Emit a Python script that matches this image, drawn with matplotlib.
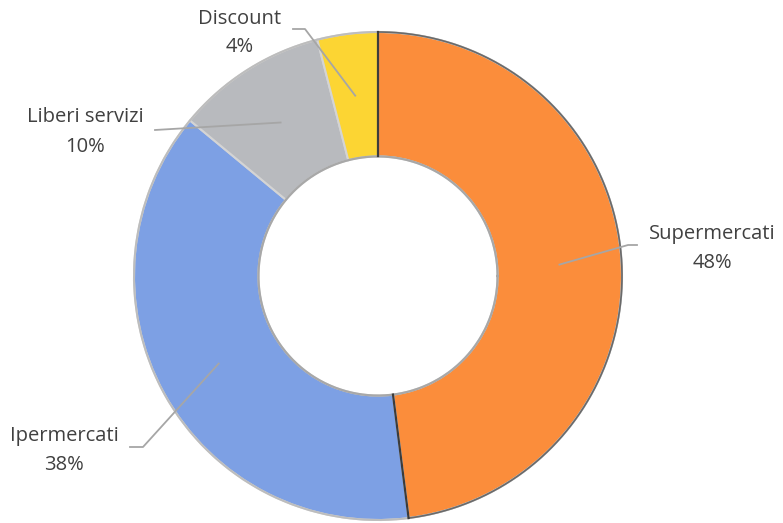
import matplotlib
matplotlib.use("Agg")
import matplotlib.pyplot as plt
import numpy as np

# quote di mercato per canale
categories = ["Supermercati", "Ipermercati", "Liberi servizi", "Discount"]
shares = [48, 38, 10, 4]
colors = ["#FB8D3B", "#7DA0E4", "#B8BABE", "#FCD533"]

W, H = 783, 523
cx, cy = 378, H - 276      # centro del donut (pixel, y dal basso)
R = 244
ring = 0.51

# posizione delle etichette e gomito della linea guida (pixel immagine)
label_pos = {
    "Supermercati": (712, 248),
    "Ipermercati": (64, 450),
    "Liberi servizi": (85, 132),
    "Discount": (240, 33),
}
elbow = {
    "Supermercati": [(637, 245), (628, 245)],
    "Ipermercati": [(130, 447), (143, 447)],
    "Liberi servizi": [(155, 130)],
    "Discount": [(293, 29), (305, 29)],
}

plt.rcParams['font.family'] = ['Open Sans', 'DejaVu Sans']

fig = plt.figure(figsize=(W / 100, H / 100), dpi=100)
ax = fig.add_axes([0, 0, 1, 1])

wedges, _ = ax.pie(shares, colors=colors, startangle=90, counterclock=False,
                   center=(cx, cy), radius=R, frame=True,
                   wedgeprops=dict(width=R * ring, edgecolor="#D4D4D4", linewidth=1.5))
ax.set_xlim(0, W)
ax.set_ylim(0, H)
ax.set_aspect('equal')
ax.axis('off')

# contorni del donut
t = np.linspace(0, 2 * np.pi, 400)
ax.plot(cx + R * np.cos(t), cy + R * np.sin(t), color="#BDBDBD", lw=1.4, zorder=3)
# lato destro del settore arancione più scuro (effetto rilievo)
a0 = np.deg2rad(wedges[0].theta2)
a1 = np.deg2rad(wedges[0].theta1)
ta = np.linspace(a1, a0, 200)
ax.plot(cx + R * np.cos(ta), cy + R * np.sin(ta), color="#6A6A6A", lw=1.2, zorder=3)
ax.plot(cx + R * (1 - ring) * np.cos(t), cy + R * (1 - ring) * np.sin(t),
        color="#A8A8A8", lw=1.6, zorder=3)

# linee di separazione scure
for ang in [90, 90 - 360 * shares[0] / 100]:
    a = np.deg2rad(ang)
    r0, r1 = R * (1 - ring), R
    ax.plot([cx + r0 * np.cos(a), cx + r1 * np.cos(a)],
            [cy + r0 * np.sin(a), cy + r1 * np.sin(a)], color="#3C3C3C", lw=1.6, zorder=4)

for w, name, val in zip(wedges, categories, shares):
    mid = np.deg2rad((w.theta1 + w.theta2) / 2)
    rm = R * (1 - ring / 2)
    px, py = cx + rm * np.cos(mid), cy + rm * np.sin(mid)
    pts = [(x, H - y) for x, y in elbow[name]] + [(px, py)]
    xs, ys = zip(*pts)
    ax.plot(xs, ys, color="#A6A6A6", lw=1.3, zorder=5)
    lx, ly = label_pos[name]
    ax.text(lx, H - ly, f"{name}\n{val}%", ha="center", va="center",
            fontsize=14.5, color="#404040", linespacing=1.6, zorder=6)

fig.savefig("out.png", dpi=100)
